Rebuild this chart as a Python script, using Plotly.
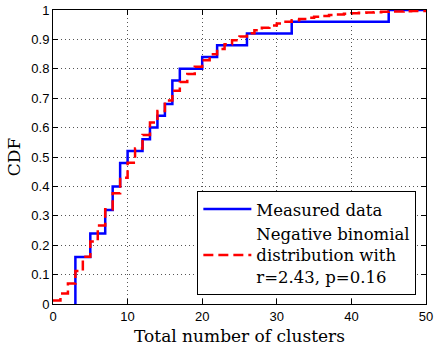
import plotly.graph_objects as go

# Measured data (empirical CDF, step function)
measured_x = [3, 3, 5, 7, 8, 9, 10, 12, 13, 14, 15, 16, 17, 20, 22, 26, 32, 45, 50]
measured_y = [0, 0.16, 0.24, 0.32, 0.40, 0.48, 0.52, 0.56, 0.60, 0.64, 0.68,
              0.76, 0.80, 0.84, 0.88, 0.92, 0.96, 1.00, 1.00]

# Negative binomial CDF values (r=2.43, p=0.16), read per integer
nb_x = list(range(51))
nb_cdf = [0.0116, 0.0354, 0.0696, 0.1121, 0.1605, 0.2128, 0.2672, 0.3223, 0.3768, 0.4298,
          0.4808, 0.5291, 0.5746, 0.6170, 0.6562, 0.6923, 0.7253, 0.7554, 0.7827, 0.8073,
          0.8295, 0.8494, 0.8672, 0.8831, 0.8972, 0.9098, 0.9209, 0.9307, 0.9394, 0.9471,
          0.9538, 0.9597, 0.9649, 0.9695, 0.9735, 0.9769, 0.9800, 0.9826, 0.9850, 0.9870,
          0.9887, 0.9903, 0.9916, 0.9927, 0.9937, 0.9946, 0.9953, 0.9960, 0.9965, 0.9970,
          0.9975]

x_ticks = [0, 10, 20, 30, 40, 50]
y_ticks = [0, 0.1, 0.2, 0.3, 0.4, 0.5, 0.6, 0.7, 0.8, 0.9, 1]
y_tick_labels = ["0", "0.1", "0.2", "0.3", "0.4", "0.5", "0.6", "0.7", "0.8", "0.9", "1"]

serif = "DejaVu Serif"
sans = "Liberation Sans, Arial"

fig = go.Figure()
fig.add_trace(go.Scatter(
    x=measured_x, y=measured_y, mode="lines", line_shape="hv",
    line=dict(color="#0000FF", width=2.5), name="Measured data"))
fig.add_trace(go.Scatter(
    x=nb_x, y=nb_cdf, mode="lines", line_shape="hv",
    line=dict(color="#FF0000", width=2.5, dash="10px,5px"),
    name="Negative binomial<br>distribution with<br>r=2.43, p=0.16"))

axis_common = dict(
    showline=True, linecolor="black", linewidth=1, mirror="ticks",
    ticks="inside", ticklen=5, tickcolor="black",
    showgrid=True, gridcolor="#555555", gridwidth=1, griddash="1px,3px",
    zeroline=False, tickfont=dict(family=sans, size=13, color="black"),
    automargin=False, ticklabeloverflow="allow",
)

fig.update_xaxes(range=[0, 50], tickvals=x_ticks,
                 title=dict(text="Total number of clusters",
                            font=dict(family=serif, size=17, color="black"),
                            standoff=7),
                 **axis_common)
fig.update_yaxes(range=[0, 1], tickvals=y_ticks, ticktext=y_tick_labels,
                 title=dict(text="CDF", font=dict(family=serif, size=17, color="black"),
                            standoff=6),
                 **axis_common)

fig.update_layout(
    width=434, height=352,
    margin=dict(l=53, r=8, t=10, b=48),
    paper_bgcolor="white", plot_bgcolor="white",
    legend=dict(x=0.387, y=0.031, xanchor="left", yanchor="bottom",
                bgcolor="white", bordercolor="black", borderwidth=1,
                font=dict(family=serif, size=16.5, color="black"),
                itemwidth=48, tracegroupgap=0),
)

fig.write_html("out.html", config={"displayModeBar": False},
               post_script="document.body.style.margin='0';")
